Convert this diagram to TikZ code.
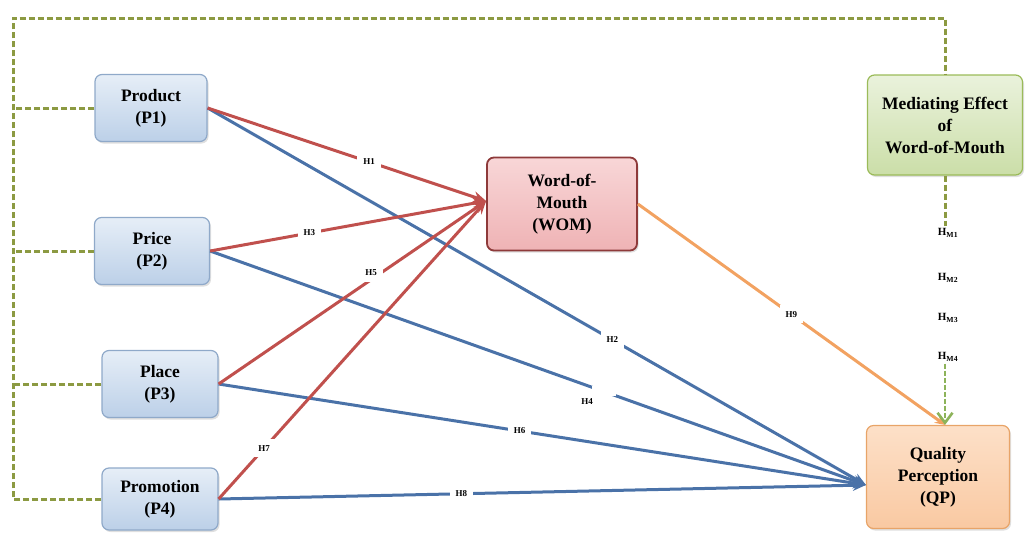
\documentclass[tikz,border=0pt]{standalone}
\usepackage{fontspec}
\setmainfont{Liberation Serif}
\usetikzlibrary{arrows.meta,shadows,calc}
\definecolor{framegreen}{HTML}{8C9A42}
\definecolor{redline}{HTML}{C0504D}
\definecolor{blueline}{HTML}{4A72A8}
\definecolor{orangeline}{HTML}{F2A261}
\definecolor{greenline}{HTML}{8DB35A}
\definecolor{bluetop}{HTML}{E6EEF7}
\definecolor{bluebot}{HTML}{BCD0E8}
\definecolor{blueborder}{HTML}{8FA9C9}
\definecolor{pinktop}{HTML}{F8D6D7}
\definecolor{pinkbot}{HTML}{EFB3B5}
\definecolor{redborder}{HTML}{8E3A3A}
\definecolor{greentop}{HTML}{EAF2DC}
\definecolor{greenbot}{HTML}{CBDEA8}
\definecolor{greenborder}{HTML}{9BBB59}
\definecolor{orangetop}{HTML}{FDE0C8}
\definecolor{orangebot}{HTML}{F9C9A2}
\definecolor{orangeborder}{HTML}{E8A468}
\begin{document}
\begin{tikzpicture}[x=1pt,y=-1pt,
  box/.style={rounded corners=7pt, align=center, inner sep=2pt,
    font=\bfseries\fontsize{17.5}{22}\selectfont, line width=1.2pt,
    drop shadow={shadow xshift=1.5pt,shadow yshift=-2pt,opacity=0.25}},
  bluebox/.style={box, draw=blueborder, top color=bluetop, bottom color=bluebot},
  wombox/.style={box, draw=redborder, line width=1.8pt, top color=pinktop, bottom color=pinkbot},
  medbox/.style={box, draw=greenborder, top color=greentop, bottom color=greenbot},
  qpbox/.style={box, draw=orangeborder, top color=orangetop, bottom color=orangebot},
  frameline/.style={draw=framegreen, line width=3pt, dash pattern=on 6pt off 3pt},
  hypfont/.style={font=\bfseries\fontsize{9}{9}\selectfont},
  hyp/.style={hypfont, fill=white, inner sep=6pt},
  gap/.style={fill=white, minimum width=24pt, minimum height=10pt, inner sep=0pt},
  hm/.style={inner sep=2pt, font=\bfseries\fontsize{11}{11}\selectfont},
  redarrow/.style={draw=redline, line width=3pt, -{Stealth[length=13pt,width=11pt]}},
  bluearrow/.style={draw=blueline, line width=3pt, -{Stealth[length=13pt,width=11pt]}},
  orangearrow/.style={draw=orangeline, line width=3pt, -{Stealth[length=10pt,width=9pt]}},
  greenarrow/.style={draw=greenline, line width=2.6pt, dash pattern=on 5pt off 2pt, -{Straight Barb[length=10pt,width=15pt]}},
]
\useasboundingbox (0,0) rectangle (1032,533);

% nodes
\node[bluebox, minimum width=112pt, minimum height=67pt] (p1) at (151,108) {Product\\(P1)};
\node[bluebox, minimum width=115pt, minimum height=67pt] (p2) at (152,251) {Price\\(P2)};
\node[bluebox, minimum width=116pt, minimum height=67pt] (p3) at (160,384) {Place\\(P3)};
\node[bluebox, minimum width=116pt, minimum height=62pt] (p4) at (160,499) {Promotion\\(P4)};
\node[wombox, minimum width=150pt, minimum height=93pt] (wom) at (562,204) {Word-of-\\Mouth\\(WOM)};
\node[medbox, minimum width=155pt, minimum height=100pt] (med) at (945,125) {Mediating Effect\\of\\Word-of-Mouth};
\node[qpbox, minimum width=143pt, minimum height=103pt] (qp) at (938,477) {Quality\\Perception\\(QP)};

% frame connector
\coordinate (tl) at (13,18);
\coordinate (tr) at (945,18);
\draw[frameline] (p4.west) -- (p4.west -| tl) -- (tl) -- (tr) -- (med.north);
\draw[frameline] (p1.west) -- (p1.west -| tl);
\draw[frameline] (p2.west) -- (p2.west -| tl);
\draw[frameline] (p3.west) -- (p3.west -| tl);

% targets
\coordinate (womin) at ($(wom.west)+(0,-3)$);
\coordinate (qpin) at ($(qp.west)+(0,8)$);
\coordinate (qptop) at (med.south |- qp.north);

% blue arrows to QP
\draw[bluearrow] (p1.east) -- (qpin) node[hyp, pos=0.615] {H2};
\draw[bluearrow] (p2.east) -- (qpin) node[gap, pos=0.6] {} node[hypfont, pos=0.575, yshift=-16pt] {H4};
\draw[bluearrow] (p3.east) -- (qpin) node[hyp, pos=0.465] {H6};
\draw[bluearrow] (p4.east) -- (qpin) node[hyp, pos=0.375] {H8};

% red arrows to WOM
\draw[redarrow] (p1.east) -- (womin) node[hyp, pos=0.58] {H1};
\draw[redarrow] (p2.east) -- (womin) node[hyp, pos=0.36] {H3};
\draw[redarrow] (p3.east) -- (womin) node[hyp, pos=0.57, yshift=7pt] {H5};
\draw[redarrow] (p4.east) -- (womin) node[hyp, pos=0.17] {H7};

% orange arrow
\draw[orangearrow] (wom.east) -- (qptop) node[hyp, pos=0.5] {H9};

% mediating hypotheses
\node[hm] (hm1) at (948,233) {H\textsubscript{M1}};
\node[hm] (hm2) at (948,278) {H\textsubscript{M2}};
\node[hm] (hm3) at (948,318) {H\textsubscript{M3}};
\node[hm] (hm4) at (948,357) {H\textsubscript{M4}};
\draw[frameline] (med.south) -- (med.south |- hm1.north);
\draw[greenarrow] (med.south |- hm4.south) -- (qptop);
\end{tikzpicture}
\end{document}
